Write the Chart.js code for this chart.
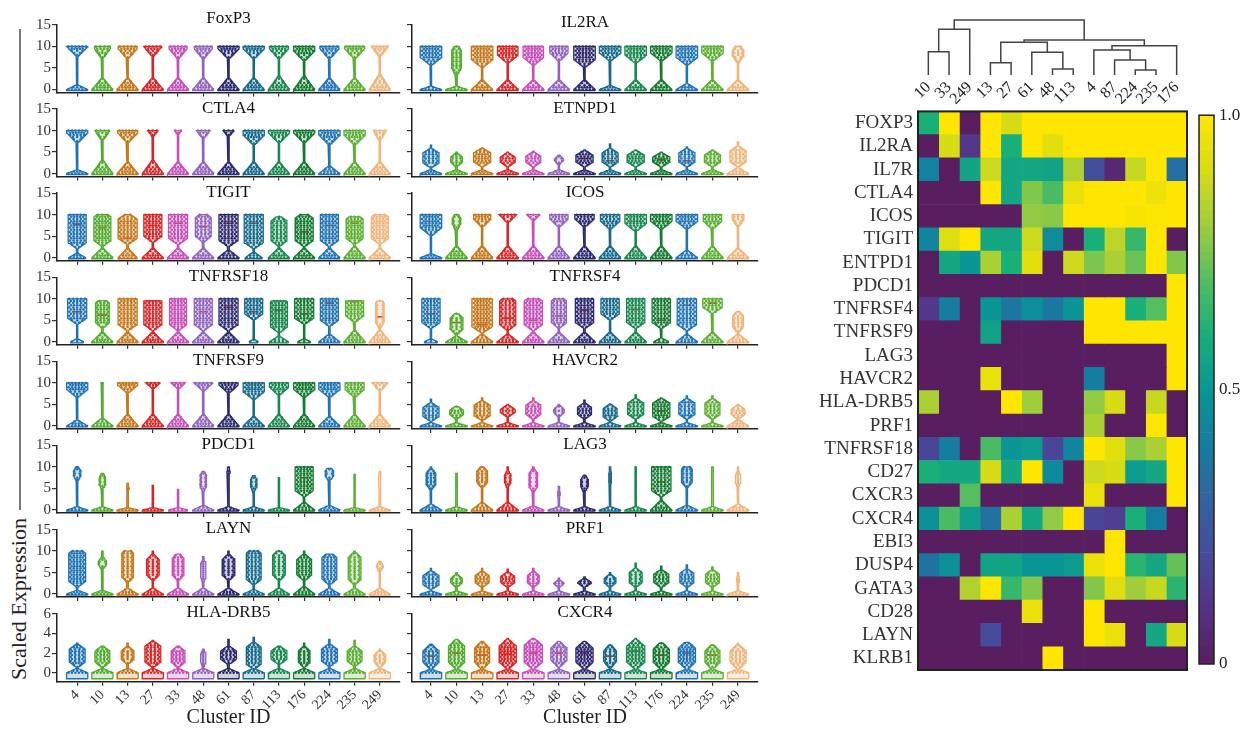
<!DOCTYPE html>
<html>
<head>
<meta charset="utf-8">
<script src="https://cdn.jsdelivr.net/npm/chart.js@4.4.1/dist/chart.umd.min.js"></script>
<style>
  html, body { margin: 0; padding: 0; background: #fff; width: 1253px; height: 729px; overflow: hidden; position: relative; }
  canvas { position: absolute; }
  #bracket { position: absolute; left: 19px; top: 29px; width: 2px; height: 481px; background: #7a7a7a; }
  #ylab { position: absolute; left: 19px; top: 599px; transform: translate(-50%, -50%) rotate(-90deg);
          font: 22px "Liberation Serif", serif; color: #222; white-space: nowrap; }
</style>
</head>
<body>
<div id="bracket"></div>
<div id="ylab">Scaled Expression</div>
<script>
// ---------- cluster identities ----------
const clusters = ['4', '10', '13', '27', '33', '48', '61', '87', '113', '176', '224', '235', '249'];
const clusterColors = ['#1f73b4', '#52ab2e', '#c4781a', '#d62728', '#c64fb8', '#9063bf', '#2d2b70',
                       '#186a8c', '#19874f', '#147a31', '#2074b6', '#5caf33', '#f0b47a'];

// ---------- violin profiles, one tuple per cluster ----------
// [top value, body half-width, body low end, body high end, base half-width, base neck height]
const vFoxP3 = [[10,1.0,7.5,13,1,1.2],[10,0.75,7,13,1,3],[10,0.9,7,13,1,3],[10,0.85,7.5,13,1,3],[10,0.85,7,13,1,3],
  [10,0.85,7,13,1,3],[10,1.0,7,13,1,3],[10,1.0,7,13,1,3],[10,0.9,7,13,1,3.5],[10,1.0,6.5,13,1,3.5],
  [10,0.9,7,13,1,3],[10,0.95,7,13,1,3],[10,0.8,7.5,13,1,4]];
const vCTLA4 = [[10,1.0,7,13,1,1],[10,0.7,7.5,13,1,3.5],[10,0.95,7,13,1,3],[10,0.8,8.5,13,1,3.5],[10,0.8,9,13,1,3],
  [10,0.8,8,13,1,3],[10,0.85,8.5,13,1,3],[10,1.0,6.5,13,1,3],[10,1.0,7,13,1,3],[10,1.0,7,13,1,3],
  [10,1.0,6.5,13,1,2],[10,1.0,6.5,13,1,3],[10,0.6,7.5,13,1,3]];
const vTIGIT = [[10,0.85,2,12,0.8,1.2],[10,0.8,2.5,11,1,2.5],[10,0.9,3,10.5,0.9,2.5],[10,0.85,3.5,11.5,1,2.5],
  [10,0.9,3,11.5,1,2.5],[10,0.75,3.5,10.8,1,2.5],[10,0.9,2.5,11.5,1,2],[10,0.9,2,11.5,0.8,1.5],
  [9.5,0.75,2.5,10,1,2.5],[10,0.85,2.5,10.7,1,2.5],[10,0.85,2.5,11.5,1,2.5],[9.5,0.8,3,10.5,1,3],[10,0.8,3,11,1,2.5]];
const vTNFRSF18 = [[10,0.9,4,12,0.6,0.8],[9.5,0.65,3,10.5,1,2.5],[10,0.9,2.5,12,1,2.5],[9.5,0.85,2.5,11,1,2.5],
  [10,0.8,2.5,11.5,1,2.5],[10,0.85,2.5,11.5,1,2.5],[10,0.9,2.5,12,1,2.5],[10,0.85,5,12,0.4,0.8],
  [9.5,0.8,2,10.8,0.9,1.5],[10,0.9,4,12,0.6,0.8],[10,0.85,3.5,12,1,2],[9.5,0.85,4.5,11,1,3],[9.5,0.4,3,10.5,1,3]];
const vTNFRSF9 = [[10,1.0,6.5,13,1,1.5],[10,0.3,9,11,1,2],[10,0.95,7.5,13,1,3],[10,0.9,8.5,13,1,3],[10,0.9,8.5,13,1,3],
  [10,0.9,8,13,1,3],[10,0.9,7.5,13,1,3],[10,1.0,6,13,1,2.5],[10,0.9,7,13,1,3],[10,1.0,6.5,13,1,3],
  [10,1.0,6.5,13,1,2.5],[10,0.9,6.5,13,1,3],[10,0.75,8,13,1,3]];
const vPDCD1 = [[10,0.35,6.5,10.5,1,0.8],[8.5,0.3,4.5,9,1,0.8],[6.2,0.15,3.5,6.5,1,0.6],[5.7,0.1,4,6,1,0.6],
  [4.8,0.1,3,5,0.9,0.6],[9,0.3,4,9.5,1,1.2],[10,0.15,7,10.5,1,0.8],[8,0.3,4,8.5,1,0.8],[7.5,0.05,4,7.5,1,0.6],
  [10,0.85,3,12,1,2],[9.7,0.4,6.5,10.5,1,1.2],[8.3,0.05,4,8.5,1,0.6],[9,0.1,4,9.5,1,0.8]];
const vLAYN = [[10,0.8,1.5,11,1,1],[10,0.4,5.5,9,1,1],[10,0.55,2.5,11,1,1.5],[10,0.6,3,9.5,1,1.5],[9.3,0.55,3,9.8,1,1.5],
  [8.7,0.25,2.5,8.5,1,1.5],[10,0.6,3,9.5,1,1.5],[10,0.7,2,11,1,1.2],[10,0.6,3,10.5,1,1.5],[10,0.7,3,9.5,1,2],
  [9.3,0.7,2,10,1,1.5],[10,0.6,2,10,1,1.5],[7.5,0.35,5,8,1,1.5]];
const vHLADRB5 = [[3,0.75,0.5,3,1,0.5],[2.7,0.7,0.5,2.8,1,0.5],[3,0.6,0.8,2.8,1,0.5],[3.3,0.75,0.5,3.3,1,0.5],
  [2.7,0.65,0.5,2.8,1,0.5],[2.4,0.25,0.5,2.5,1,0.5],[3.4,0.75,0.8,2.8,1,0.5],[3.6,0.7,0.3,3.2,1,0.5],
  [2.7,0.75,0.8,2.8,1,0.5],[3,0.55,0.5,2.8,1,0.5],[3.4,0.75,0.6,3,1,0.5],[3.3,0.7,0.6,2.8,1,0.5],[2.4,0.55,0.5,2.4,1,0.5]];
const vIL2RA = [[10,1.0,5.5,13,1,0.8],[10,0.45,3,11,1,0.8],[10,1.0,5,13,1,2.5],[10,0.95,6,13,1,2.5],[10,0.95,5.5,13,1,2.5],
  [10,0.85,6.5,13,1,2.5],[10,1.0,5,13,1,2.5],[10,1.0,6.5,13,1,1],[10,1.0,6,13,1,2.5],[10,1.0,6.5,13,1,2.5],
  [10,1.0,5.5,13,1,1.5],[10,1.0,6.5,13,1,2.5],[10,0.55,6,11,1,2.5]];
const vETNPD1 = [[6.6,0.75,1.3,6,1,1],[5,0.55,1.5,5,1,1],[6,0.8,1.5,6,1,1],[5,0.7,1.5,5,1,1],[5.2,0.7,1.5,5.2,1,1],
  [4.3,0.45,2,4.5,1,1],[5.5,0.8,1.5,5.5,1,1],[6.9,0.75,1.5,6,1,1],[5.5,0.8,1.5,5.5,1,1],[5,0.8,1.5,5,1,1],
  [6.2,0.75,1.5,6,1,1],[5.5,0.75,1.5,5.5,1,1],[7.4,0.75,1.5,6.5,1,1.5]];
const vICOS = [[10,1.0,5,13,1,1],[10,0.4,6,11,1,3],[10,0.8,7,12,1,3],[10,0.8,8,12,1,3],[10,0.8,8.5,12,1,3],
  [10,0.85,7,13,1,3],[10,0.9,7,13,1,3],[10,0.9,6.5,13,1,3],[10,1.0,6,13,1,3],[10,1.0,6.5,13,1,3],
  [10,1.0,6.5,13,1,2],[10,0.85,6.5,13,1,3],[10,0.55,7,12,1,2.5]];
const vTNFRSF4 = [[10,0.85,3,11.5,0.6,0.8],[6.5,0.6,1.5,7,1,1.5],[10,0.95,2,12,1,2],[10,0.75,2.5,11,1,2],
  [10,0.85,2.5,11,1,2.5],[10,0.7,3,11,1,2.5],[10,0.85,3,11.5,1,2.5],[10,0.85,5,12,1,2.5],[10,0.85,3,12,1,2.5],
  [10,0.85,3,12,0.7,1],[10,0.9,2.5,12,1,2],[10,0.9,6.5,12,1,2.5],[7,0.5,2,7.5,1,2]];
const vHAVCR2 = [[6.2,0.75,1,5.5,1,0.8],[4.5,0.65,1.5,4.8,1,0.8],[6.5,0.75,1.2,6,1,0.8],[5,0.7,2,5,1,0.8],
  [6.5,0.7,1.5,6,1,0.8],[5,0.5,2,5,1,0.8],[6,0.65,1.5,5.5,1,0.8],[5,0.65,1,5.2,1,0.8],[7.2,0.75,1.5,6.5,1,0.8],
  [6.5,0.8,1,6.5,1,0.8],[7,0.75,1.5,6.5,1,0.8],[7,0.7,1.5,6.5,1,0.8],[5,0.65,1.5,5,1,1.5]];
const vLAG3 = [[10,0.45,4.5,10,1,1.5],[8.5,0.1,4,8.5,1,0.8],[10,0.5,5,10.5,1,2],[10,0.3,5,9.5,1,2],[10,0.4,4,10,1,1],
  [5.5,0.12,2,5.5,1,0.8],[8,0.35,4,8.5,1,0.8],[10,0.12,5,10,1,0.8],[10,0.06,5,10,1,0.8],[10,0.9,3,12,1,2.5],
  [10,0.5,5,11,1,1.2],[10,0.1,3,10,1,0.8],[10,0.25,5,9.5,1,1.5]];
const vPRF1 = [[6,0.75,1,5.5,1,0.8],[5,0.55,1.5,4.8,1,0.8],[6,0.65,1.5,5.5,1,0.8],[5.8,0.65,1.5,5.3,1,0.8],
  [6,0.55,1.5,5.5,1,0.8],[3.7,0.6,1.5,3.5,1,0.8],[4,0.7,1.5,3.8,1,0.8],[5,0.55,1.5,4.8,1,0.8],[7.2,0.6,1.5,6.2,1,0.8],
  [6.5,0.7,1.5,5.8,1,0.8],[6.8,0.65,1.5,6,1,0.8],[6.3,0.65,1.5,5.8,1,0.8],[5,0.15,2,4.8,1,0.8]];
const vCXCR4 = [[2.9,0.75,0.3,3,1,0.4],[3.4,0.75,0.3,3.5,1,0.4],[3.2,0.7,0.3,3.3,1,0.4],[3.5,0.8,0.3,3.5,1,0.4],
  [3.5,0.85,0.3,3.6,1,0.4],[3.2,0.75,0.5,3.3,1,0.4],[3.2,0.8,0.3,3.3,1,0.4],[2.8,0.6,0.4,3,1,0.4],
  [3.5,0.85,0.3,3.5,1,0.4],[3,0.75,0.3,3.2,1,0.4],[3.1,0.8,0.3,3.3,1,0.4],[2.8,0.7,0.3,3,1,0.4],[3,0.75,0.3,3,1,0.4]];

// median marks (red), null where none is drawn
const mTIGIT = [7.8, 7, 4.5, 7.5, 8, 7.2, 8, 8, null, 6, 7.5, 8, null];
const mTNFRSF18 = [7, 6.2, null, null, null, 7, 8, 7, 7.3, 6.5, 9, 9.3, 5.8];
const mTNFRSF4 = [6.5, 4.5, 4, 5.5, 5, 6, 7.3, null, 7.5, 5, 8.5, 9, null];
const mCXCR4 = [1.7, 2, 1.8, 1.9, 2, 2, 2, 1.7, 2.2, 1.8, 2, 1.8, null];
const mPDCD1 = [null, null, null, null, null, null, null, null, null, 7.5, null, null, null];
const mLAG3 = [null, null, null, null, null, null, null, null, null, 6.5, null, null, null];
const mETNPD1 = [null, null, null, null, null, null, 3.5, 3, null, 3.2, 3, null, null];
const mHAVCR2 = [null, null, null, null, null, null, null, null, null, 3.5, null, null, null];

// ---------- heatmap ----------
const heatGenes = ['FOXP3', 'IL2RA', 'IL7R', 'CTLA4', 'ICOS', 'TIGIT', 'ENTPD1', 'PDCD1', 'TNFRSF4', 'TNFRSF9',
  'LAG3', 'HAVCR2', 'HLA-DRB5', 'PRF1', 'TNFRSF18', 'CD27', 'CXCR3', 'CXCR4', 'EBI3', 'DUSP4', 'GATA3', 'CD28',
  'LAYN', 'KLRB1'];
const heatClusters = ['10', '33', '249', '13', '27', '61', '48', '113', '4', '87', '224', '235', '176'];
const heatValues = [
  [0.6, 1, 0, 1, 0.9, 1, 1, 1, 1, 1, 1, 1, 1],                          // FOXP3
  [0, 0.9, 0.12, 1, 0.6, 1, 0.93, 1, 1, 1, 1, 1, 1],                   // IL2RA
  [0.42, 0, 0.55, 0.88, 0.56, 0.57, 0.55, 0.83, 0.22, 0.05, 0.87, 1, 0.35], // IL7R
  [0, 0, 0, 1, 0.56, 0.76, 0.68, 0.95, 1, 1, 1, 0.96, 1],              // CTLA4
  [0, 0, 0, 0, 0, 0.78, 0.77, 1, 1, 1, 0.98, 0.99, 1],                 // ICOS
  [0.43, 0.92, 1, 0.57, 0.56, 0.88, 0.46, 0, 0.6, 0.85, 0.65, 1, 0],   // TIGIT
  [0, 0.57, 0.5, 0.82, 0.6, 0.93, 0, 0.88, 0.75, 0.82, 0.73, 1, 0.76], // ENTPD1
  [0, 0, 0, 0, 0, 0, 0, 0, 0, 0, 0, 0, 1],                              // PDCD1
  [0.12, 0.4, 0, 0.5, 0.37, 0.47, 0.38, 0.5, 1, 1, 0.6, 0.7, 1],       // TNFRSF4
  [0, 0, 0, 0.55, 0, 0, 0, 0, 1, 1, 1, 1, 1],                           // TNFRSF9
  [0, 0, 0, 0, 0, 0, 0, 0, 0, 0, 0, 0, 1],                              // LAG3
  [0, 0, 0, 0.95, 0, 0, 0, 0, 0.4, 0, 0, 0, 1],                         // HAVCR2
  [0.82, 0, 0, 0, 1, 0.8, 0, 0, 0.78, 0.9, 0, 0.87, 0],                 // HLA-DRB5
  [0, 0, 0, 0, 0, 0, 0, 0, 0.82, 0, 0, 1, 0],                           // PRF1
  [0.18, 0.4, 0, 0.68, 0.5, 0.52, 0.18, 0.43, 1, 0.93, 0.77, 0.82, 1], // TNFRSF18
  [0.6, 0.57, 0.57, 0.9, 0.57, 1, 0.45, 0, 0.88, 0.9, 0.52, 0.57, 1],  // CD27
  [0, 0, 0.7, 0, 0, 0, 0, 0, 0.95, 0, 0, 0, 1],                         // CXCR3
  [0.48, 0.68, 0.53, 0.35, 0.82, 0.57, 0.78, 1, 0.18, 0.15, 0.6, 0.4, 0], // CXCR4
  [0, 0, 0, 0, 0, 0, 0, 0, 0, 1, 0, 0, 0],                              // EBI3
  [0.36, 0.48, 0, 0.55, 0.55, 0.5, 0.5, 0.52, 0.95, 1, 0.63, 0.57, 0.72], // DUSP4
  [0, 0, 0.83, 1, 0.65, 0.76, 0, 0, 0.76, 0.92, 0.8, 0.87, 0.63],      // GATA3
  [0, 0, 0, 0, 0, 0.95, 0, 0, 1, 0, 0, 0, 0],                           // CD28
  [0, 0, 0, 0.2, 0, 0, 0, 0, 1, 0.95, 0, 0.57, 0.9],                    // LAYN
  [0, 0, 0, 0, 0, 0, 1, 0, 0, 0, 0, 0, 0]                               // KLRB1
];
// hierarchical clustering of the columns: [left child, right child, merge height]
// children are cluster names (leaves) or indices of earlier merges
const dendroMerges = [
  ['10', '33', 23.3], [0, '249', 45.7], ['13', '27', 12.3], ['48', '113', 6], ['61', 3, 22.7], [2, 4, 32.7],
  ['224', '235', 5], ['87', 6, 15], ['4', 7, 25], [8, '176', 29.3], [5, 9, 35], [1, 10, 55]
];
const colorbarTicks = [0, 0.5, 1];

// ---------- helpers ----------
const SERIF = '"Liberation Serif", "Times New Roman", serif';
const viridisStops = [[88,30,95],[85,50,135],[70,75,155],[50,100,160],[20,125,160],[10,150,150],
                      [25,175,120],[85,190,95],[160,205,60],[215,220,20],[255,230,0]];
function viridis(v) {
  v = Math.max(0, Math.min(1, v));
  const p = v * (viridisStops.length - 1);
  const i = Math.min(Math.floor(p), viridisStops.length - 2);
  const f = p - i, a = viridisStops[i], b = viridisStops[i + 1];
  return 'rgb(' + a.map((c, k) => Math.round(c + (b[k] - c) * f)).join(',') + ')';
}
function hexAlpha(hex, a) {
  const n = parseInt(hex.slice(1), 16);
  return `rgba(${n >> 16},${(n >> 8) & 255},${n & 255},${a})`;
}
function addCanvas(left, top, w, h) {
  const c = document.createElement('canvas');
  c.width = w; c.height = h;
  c.style.left = left + 'px'; c.style.top = top + 'px';
  c.style.width = w + 'px'; c.style.height = h + 'px';
  document.body.appendChild(c);
  return c;
}

const HW = 0.42; // violin half-width in category units
function widthAt(t, y, taper) {
  const [top, bw, lo, hi, baseW, neck] = t;
  let w = 0.06;
  if (y <= 0) w = Math.max(w, baseW);
  else if (y < neck) w = Math.max(w, baseW * Math.pow(1 - y / neck, 1.1));
  const d = Math.min(y - lo, hi - y);
  if (d > 0) w = Math.max(w, bw * Math.min(1, d / taper));
  return w;
}
function violinOutline(i, t, taper, floor) {
  const top = t[0], n = 90, right = [], left = [];
  for (let k = 0; k <= n; k++) {
    const y = floor + (top - floor) * k / n;
    const w = HW * widthAt(t, y, taper);
    right.push({x: i + w, y});
    left.push({x: i - w, y});
  }
  const pts = right.concat(left.reverse());
  pts.push(pts[0]);
  return pts;
}
function violinDots(i, t, taper, step) {
  const pts = [];
  let row = 0;
  for (let y = 0; y <= t[0] + 1e-6; y += step, row++) {
    const w = widthAt(t, y, taper);
    const n = Math.floor(w * 6 + 0.35);
    if (n < 1) continue;
    const span = HW * w * 0.82 * (row % 2 ? 0.8 : 1);
    for (let k = 0; k < n; k++) {
      const f = n === 1 ? 0 : (2 * k / (n - 1) - 1);
      pts.push({x: i + span * f, y});
    }
  }
  return pts;
}
function medianMarks(m) {
  const pts = [];
  (m || []).forEach((v, i) => {
    if (v === null) return;
    pts.push({x: i - 0.17, y: v}, {x: i + 0.17, y: v}, {x: i + 0.5, y: null});
  });
  return pts;
}

// ---------- violin panels ----------
const panels = [
  {gene: 'FoxP3', col: 0, row: 0, v: vFoxP3, taper: 2.5, dy: -6},
  {gene: 'CTLA4', col: 0, row: 1, v: vCTLA4, taper: 2.5},
  {gene: 'TIGIT', col: 0, row: 2, v: vTIGIT, taper: 1.5, m: mTIGIT},
  {gene: 'TNFRSF18', col: 0, row: 3, v: vTNFRSF18, taper: 1.5, m: mTNFRSF18},
  {gene: 'TNFRSF9', col: 0, row: 4, v: vTNFRSF9, taper: 2},
  {gene: 'PDCD1', col: 0, row: 5, v: vPDCD1, taper: 1.5, m: mPDCD1},
  {gene: 'LAYN', col: 0, row: 6, v: vLAYN, taper: 1.5},
  {gene: 'HLA-DRB5', col: 0, row: 7, v: vHLADRB5, taper: 0.6},
  {gene: 'IL2RA', col: 1, row: 0, v: vIL2RA, taper: 2, dy: -2},
  {gene: 'ETNPD1', col: 1, row: 1, v: vETNPD1, taper: 1.2, m: mETNPD1},
  {gene: 'ICOS', col: 1, row: 2, v: vICOS, taper: 2},
  {gene: 'TNFRSF4', col: 1, row: 3, v: vTNFRSF4, taper: 1.5, m: mTNFRSF4},
  {gene: 'HAVCR2', col: 1, row: 4, v: vHAVCR2, taper: 1.2, m: mHAVCR2},
  {gene: 'LAG3', col: 1, row: 5, v: vLAG3, taper: 1.5, m: mLAG3},
  {gene: 'PRF1', col: 1, row: 6, v: vPRF1, taper: 1.2},
  {gene: 'CXCR4', col: 1, row: 7, v: vCXCR4, taper: 0.8, m: mCXCR4}
];

function makePanel(p) {
  const left = p.col === 0;
  const last = p.row === 7;
  const areaTop = 25 + 84.1 * p.row;
  const areaH = last ? 68 : 67.5;
  const canvasTop = Math.round(areaTop) - 26;
  const xAxisH = last ? 46 : 8;
  const canvasH = Math.ceil(areaTop + areaH + xAxisH + 2 - canvasTop);
  const canvasLeft = left ? 0 : 405;
  const canvasW = left ? 405 : 360;
  const yAxisW = left ? 57 : 7;
  const areaRight = left ? 400 : 758;
  const yMin = last ? -0.9 : -0.7, yMax = last ? 6 : 15;
  const yTicks = last ? [0, 2, 4, 6] : [0, 5, 10, 15];
  const floor = last ? -0.6 : -0.25;
  const step = last ? 0.2 : 0.5;
  const xMin = left ? -0.8 : -0.74, xMax = left ? 12.8 : 12.78;

  const datasets = [];
  p.v.forEach((t, i) => {
    const col = clusterColors[i];
    datasets.push({
      data: violinOutline(i, t, p.taper, floor), showLine: true, fill: 'shape',
      borderColor: col, backgroundColor: hexAlpha(col, 0.22), borderWidth: 1.3, pointRadius: 0, tension: 0
    });
    datasets.push({
      data: violinDots(i, t, p.taper, step), showLine: false,
      pointRadius: 1.25, pointBorderWidth: 0, pointBackgroundColor: col, borderColor: col, backgroundColor: col
    });
  });
  if (p.m) {
    datasets.push({
      data: medianMarks(p.m), showLine: true, spanGaps: false, fill: false,
      borderColor: '#ee2a1e', borderWidth: 1.6, pointRadius: 0, tension: 0
    });
  }

  const canvas = addCanvas(canvasLeft, canvasTop, canvasW, canvasH);
  const padTop = areaTop - canvasTop;
  const padBottom = canvasH - (areaTop + areaH - canvasTop) - xAxisH;
  new Chart(canvas, {
    type: 'line',
    data: {datasets},
    options: {
      responsive: false, animation: false, events: [], devicePixelRatio: 1,
      layout: {padding: {top: padTop, bottom: padBottom, left: 0, right: canvasLeft + canvasW - areaRight}},
      plugins: {legend: {display: false}, tooltip: {enabled: false}},
      scales: {
        x: {
          type: 'linear', min: xMin, max: xMax,
          afterBuildTicks: s => { s.ticks = clusters.map((c, i) => ({value: i})); },
          afterFit: s => { s.height = xAxisH; },
          grid: {display: true, drawOnChartArea: false, drawTicks: true, tickLength: 4, color: '#333', lineWidth: 1.2},
          border: {display: true, color: '#222', width: 1.5},
          ticks: {display: last, autoSkip: false, minRotation: 45, maxRotation: 45, padding: 1,
                  font: {family: SERIF, size: 14}, color: '#333', callback: v => clusters[v]}
        },
        y: {
          type: 'linear', min: yMin, max: yMax,
          afterBuildTicks: s => { s.ticks = yTicks.map(v => ({value: v})); },
          afterFit: s => { s.width = yAxisW; },
          grid: {display: true, drawOnChartArea: false, drawTicks: true, tickLength: 5, color: '#333', lineWidth: 1.2},
          border: {display: true, color: '#222', width: 1.5},
          ticks: {display: left, padding: 1, font: {family: SERIF, size: 15}, color: '#333'}
        }
      }
    },
    plugins: [{
      id: 'panelText',
      afterDraw(chart) {
        const ctx = chart.ctx, a = chart.chartArea;
        ctx.save();
        ctx.fillStyle = '#111';
        ctx.textAlign = 'center';
        ctx.textBaseline = 'middle';
        ctx.font = '17px ' + SERIF;
        ctx.fillText(p.gene, (a.left + a.right) / 2, a.top + (p.dy !== undefined ? p.dy : -1));
        if (last) {
          ctx.font = '20px ' + SERIF;
          ctx.fillStyle = '#222';
          ctx.fillText('Cluster ID', (a.left + a.right) / 2, 718 - canvasTop);
        }
        ctx.restore();
      }
    }]
  });
}
panels.forEach(makePanel);

// ---------- dendrogram over the heatmap columns ----------
(function () {
  const leafX = name => heatClusters.indexOf(name) + 0.5;
  const nodes = [];
  const info = n => (typeof n === 'string' ? {x: leafX(n), h: 0} : nodes[n]);
  const datasets = dendroMerges.map(([a, b, h], k) => {
    const A = info(a), B = info(b);
    nodes[k] = {x: (A.x + B.x) / 2, h};
    return {
      data: [{x: A.x, y: A.h}, {x: A.x, y: h}, {x: B.x, y: h}, {x: B.x, y: B.h}],
      showLine: true, fill: false, borderColor: '#444', borderWidth: 1.5, pointRadius: 0, tension: 0
    };
  });
  const canvas = addCanvas(800, 0, 453, 112);
  new Chart(canvas, {
    type: 'line',
    data: {datasets},
    options: {
      responsive: false, animation: false, events: [], devicePixelRatio: 1,
      layout: {padding: {top: 15, left: 118, right: 66, bottom: 0}},
      plugins: {legend: {display: false}, tooltip: {enabled: false}},
      scales: {
        x: {
          type: 'linear', min: 0, max: 13,
          afterBuildTicks: s => { s.ticks = heatClusters.map((c, i) => ({value: i + 0.5})); },
          afterFit: s => { s.height = 37; },
          grid: {display: false, drawTicks: false}, border: {display: false},
          ticks: {autoSkip: false, minRotation: 45, maxRotation: 45, padding: 3,
                  font: {family: SERIF, size: 16}, color: '#222',
                  callback: v => heatClusters[Math.round(v - 0.5)]}
        },
        y: {type: 'linear', min: 0, max: 60, display: false}
      }
    }
  });
})();

// ---------- heatmap ----------
const framePlugin = width => ({
  id: 'frame',
  afterDatasetsDraw(chart) {
    const ctx = chart.ctx, a = chart.chartArea;
    ctx.save();
    ctx.strokeStyle = '#222';
    ctx.lineWidth = width;
    ctx.strokeRect(a.left, a.top, a.right - a.left, a.bottom - a.top);
    ctx.restore();
  }
});
(function () {
  const datasets = heatClusters.map((cl, c) => ({
    label: cl,
    data: heatGenes.map(() => [c, c + 1]),
    backgroundColor: heatGenes.map((g, r) => viridis(heatValues[r][c])),
    borderWidth: 0, grouped: false, barPercentage: 1, categoryPercentage: 1
  }));
  const canvas = addCanvas(800, 95, 453, 600);
  new Chart(canvas, {
    type: 'bar',
    data: {labels: heatGenes, datasets},
    options: {
      indexAxis: 'y', responsive: false, animation: false, events: [], devicePixelRatio: 1,
      layout: {padding: {top: 11, right: 66, bottom: 25, left: 0}},
      plugins: {legend: {display: false}, tooltip: {enabled: false}},
      scales: {
        x: {type: 'linear', min: 0, max: 13, display: false},
        y: {
          type: 'category', afterFit: s => { s.width = 118; },
          grid: {display: false, drawTicks: false}, border: {display: false},
          ticks: {autoSkip: false, padding: 5, font: {family: SERIF, size: 19}, color: '#333'}
        }
      }
    },
    plugins: [framePlugin(2)]
  });
})();

// ---------- colour bar ----------
(function () {
  const steps = 64;
  const datasets = Array.from({length: steps}, (_, i) => ({
    data: [[i / steps, (i + 1) / steps]], backgroundColor: viridis((i + 0.5) / steps),
    borderWidth: 0, grouped: false, barPercentage: 1, categoryPercentage: 1
  }));
  const canvas = addCanvas(1190, 100, 63, 580);
  new Chart(canvas, {
    type: 'bar',
    data: {labels: [''], datasets},
    options: {
      responsive: false, animation: false, events: [], devicePixelRatio: 1,
      layout: {padding: {top: 13, bottom: 16, left: 9, right: 0}},
      plugins: {legend: {display: false}, tooltip: {enabled: false}},
      scales: {
        x: {display: false},
        y: {
          type: 'linear', position: 'right', min: 0, max: 1,
          afterBuildTicks: s => { s.ticks = colorbarTicks.map(v => ({value: v})); },
          afterFit: s => { s.width = 39; },
          grid: {display: false, drawTicks: false}, border: {display: false},
          ticks: {padding: 5, font: {family: SERIF, size: 17}, color: '#222',
                  callback: v => (v === 1 ? '1.0' : String(v))}
        }
      }
    },
    plugins: [framePlugin(1.5)]
  });
})();
</script>
</body>
</html>
